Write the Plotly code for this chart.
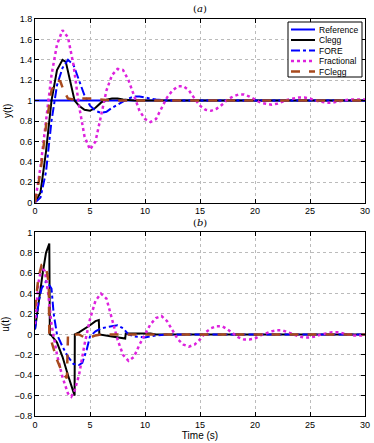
import plotly.graph_objects as go
from plotly.subplots import make_subplots

# ---- (a) output y(t) ----
ref_t = [0, 30]
ref_y = [1, 1]

clegg_t = [0, 0.5, 1, 1.5, 2, 2.5, 2.8, 3.2, 3.6, 4, 4.5, 5, 5.5, 6, 6.5, 7, 7.5, 8, 9, 30]
clegg_y = [0, 0.1, 0.5, 1.0, 1.3, 1.4, 1.38, 1.2, 1.0, 0.95, 0.91, 0.9, 0.93, 0.98, 1.01, 1.02, 1.02, 1.01, 1.0, 1.0]

fore_t = [0, 0.5, 1, 1.5, 2, 2.5, 3, 3.5, 4, 4.5, 5, 5.5, 6, 6.5, 7, 7.5, 8, 8.5, 9, 9.5, 10, 11, 12, 30]
fore_y = [0, 0.05, 0.3, 0.8, 1.15, 1.32, 1.4, 1.35, 1.2, 1.05, 0.95, 0.9, 0.88, 0.89, 0.93, 0.96, 0.99, 1.02, 1.04, 1.04, 1.03, 1.01, 1.0, 1.0]

frac_t = [0, 0.5, 1, 1.5, 2, 2.5, 3, 3.5, 4, 4.5, 5, 5.5, 6, 6.5, 7, 7.5, 8, 8.5, 9, 9.5,
          10, 10.5, 11, 11.5, 12, 12.5, 13, 13.5, 14, 14.5, 15, 15.5, 16, 16.5, 17, 17.5,
          18, 18.5, 19, 19.5, 20, 20.5, 21, 21.5, 22, 22.5, 23, 23.5, 24, 24.5, 25, 25.5,
          26, 26.5, 27, 27.5, 28, 28.5, 29, 29.5, 30]
frac_y = [0, 0.35, 0.8, 1.25, 1.55, 1.69, 1.62, 1.35, 0.95, 0.65, 0.52, 0.6, 0.85, 1.1, 1.25, 1.31, 1.3, 1.2, 1.05, 0.9,
          0.82, 0.79, 0.82, 0.92, 1.03, 1.1, 1.14, 1.14, 1.1, 1.02, 0.95, 0.91, 0.9, 0.92, 0.96, 1.01,
          1.04, 1.06, 1.06, 1.04, 1.01, 0.98, 0.97, 0.96, 0.97, 0.99, 1.01, 1.02, 1.03, 1.03, 1.02, 1.0,
          0.99, 0.98, 0.98, 0.99, 1.0, 1.01, 1.01, 1.01, 1.01]

fclegg_t = [0, 0.5, 1, 1.5, 2, 2.3, 2.6, 3, 3.5, 4, 5, 6, 7, 30]
fclegg_y = [0, 0.3, 0.75, 1.1, 1.2, 1.19, 1.1, 1.02, 1.01, 1.02, 1.02, 1.01, 1.0, 1.0]

# ---- (b) control u(t) ----
uclegg_t = [0, 0.3, 0.7, 1, 1.3, 1.35, 1.5, 2, 2.5, 3, 3.5, 3.6, 3.62, 4, 5, 5.5, 5.8, 5.85, 7, 8.2, 8.25, 10, 10.5, 11, 30]
uclegg_y = [0.05, 0.3, 0.6, 0.8, 0.89, 0.0, -0.01, -0.08, -0.22, -0.4, -0.57, -0.6, 0.0, 0.02, 0.09, 0.13, 0.14, 0.0, -0.02, -0.04, 0.01, 0.01, 0.01, 0.0, 0.0]

ufore_t = [0, 0.3, 0.6, 1, 1.2, 1.5, 1.7, 2, 2.5, 3, 3.5, 4, 4.3, 4.7, 5, 5.5, 6, 7, 7.5, 8, 8.5, 9, 10, 11, 12, 30]
ufore_y = [0.05, 0.3, 0.45, 0.52, 0.5, 0.45, 0.2, 0.0, -0.12, -0.22, -0.29, -0.3, -0.28, -0.15, -0.02, 0.03, 0.06, 0.08, 0.09, 0.06, 0.0, -0.02, -0.03, -0.01, 0.0, 0.0]

ufrac_t = [0, 0.3, 0.6, 0.9, 1.2, 1.5, 2, 2.5, 3, 3.3, 3.6, 4, 4.5, 5, 5.5, 6, 6.5, 7, 7.5, 8, 8.5, 9, 9.5,
           10, 10.5, 11, 11.5, 12, 12.5, 13, 13.5, 14, 14.5, 15, 15.5, 16, 16.5, 17, 17.5,
           18, 18.5, 19, 19.5, 20, 20.5, 21, 21.5, 22, 22.5, 23, 23.5, 24, 24.5, 25, 25.5,
           26, 26.5, 27, 27.5, 28, 28.5, 29, 29.5, 30]
ufrac_y = [0.1, 0.5, 0.66, 0.62, 0.4, 0.1, -0.2, -0.42, -0.58, -0.61, -0.55, -0.4, -0.1, 0.15, 0.33, 0.4, 0.35, 0.15, -0.05, -0.2, -0.26, -0.22, -0.1,
           0.0, 0.1, 0.16, 0.18, 0.13, 0.04, -0.05, -0.1, -0.12, -0.1, -0.05, 0.02, 0.06, 0.08, 0.08, 0.05,
           0.01, -0.03, -0.05, -0.05, -0.04, -0.01, 0.01, 0.03, 0.04, 0.04, 0.02, 0.0, -0.02, -0.03, -0.03, -0.02,
           0.0, 0.01, 0.02, 0.02, 0.01, 0.0, -0.01, -0.01, -0.01]

ufclegg_t = [0, 0.3, 0.6, 0.9, 1.1, 1.25, 1.3, 1.6, 2, 2.5, 2.9, 3.0, 4, 4.5, 5, 5.5, 6, 30]
ufclegg_y = [0.25, 0.55, 0.68, 0.68, 0.6, 0.5, 0.0, -0.1, -0.25, -0.38, -0.43, 0.0, 0.0, -0.03, -0.03, -0.01, 0.0, 0.0]

BLUE = "#0000ff"
MAG = "#dd22dd"
BROWN = "#a84a1e"

# name, colour, dash, width  (used for both panels and the legend box)
styles = [
    ("Reference", BLUE, "solid", 2),
    ("Clegg", "black", "solid", 2),
    ("FORE", BLUE, "dashdot", 2),
    ("Fractional", MAG, "dot", 2.5),
    ("FClegg", BROWN, "dash", 2.5),
]

fig = make_subplots(rows=2, cols=1, vertical_spacing=0.075)

top = [ref_t, clegg_t, fore_t, frac_t, fclegg_t], [ref_y, clegg_y, fore_y, frac_y, fclegg_y]
for (name, color, dash, width), t, y in zip(styles, *top):
    fig.add_trace(go.Scatter(x=t, y=y, mode="lines", name=name, showlegend=False,
                             line=dict(color=color, dash=dash, width=width)), row=1, col=1)

bottom = [uclegg_t, ufore_t, ufrac_t, ufclegg_t], [uclegg_y, ufore_y, ufrac_y, ufclegg_y]
for (name, color, dash, width), t, y in zip(styles[1:], *bottom):
    fig.add_trace(go.Scatter(x=t, y=y, mode="lines", name=name, showlegend=False,
                             line=dict(color=color, dash=dash, width=width)), row=2, col=1)

axis_style = dict(showline=True, linecolor="black", linewidth=1, mirror="ticks",
                  ticks="inside", ticklen=4, tickcolor="black", automargin=False,
                  showgrid=True, gridcolor="#bbbbbb", griddash="dot", gridwidth=1,
                  zeroline=False, tickfont=dict(size=9, color="black"))

fig.update_xaxes(range=[0, 30], dtick=5, **axis_style)
fig.update_yaxes(**axis_style)
fig.update_yaxes(range=[0, 1.8], dtick=0.2, row=1, col=1,
                 title=dict(text="y(t)", font=dict(size=10), standoff=6))
fig.update_yaxes(range=[-0.8, 1], dtick=0.2, row=2, col=1,
                 title=dict(text="u(t)", font=dict(size=10), standoff=6))
fig.update_xaxes(row=2, col=1, title=dict(text="Time (s)", font=dict(size=10), standoff=3))

W, H = 374, 443
# plot area in window pixels: x 35..365, y 19..416
pw, ph = 365 - 35, 416 - 19
px = lambda v: (v - 35) / pw
py = lambda v: (416 - v) / ph

# legend box drawn by hand (MATLAB-style compact legend)
shapes = [dict(type="rect", xref="paper", yref="paper", x0=px(288), x1=px(362), y0=py(77), y1=py(22),
               line=dict(color="black", width=1), fillcolor="white", layer="above")]
annotations = []
for i, (name, color, dash, width) in enumerate(styles):
    yy = py(29.5 + i * 10.5)
    shapes.append(dict(type="line", xref="paper", yref="paper", x0=px(291), x1=px(315), y0=yy, y1=yy,
                       line=dict(color=color, dash=dash, width=width), layer="above"))
    annotations.append(dict(text=name, x=px(317), y=yy, xref="paper", yref="paper",
                            xanchor="left", yanchor="middle", showarrow=False,
                            font=dict(size=8.5)))

annotations += [
    dict(text="(<i>a</i>)", x=0.5, y=py(8), xref="paper", yref="paper",
         yanchor="middle", showarrow=False,
         font=dict(family="DejaVu Serif, serif", size=10)),
    dict(text="(<i>b</i>)", x=0.5, y=py(222), xref="paper", yref="paper",
         yanchor="middle", showarrow=False,
         font=dict(family="DejaVu Serif, serif", size=10)),
]

fig.update_layout(
    width=W, height=H,
    margin=dict(l=35, r=374 - 365, t=19, b=443 - 416),
    paper_bgcolor="white", plot_bgcolor="white",
    font=dict(family="Liberation Sans, Arial, sans-serif", size=9, color="black"),
    shapes=shapes, annotations=annotations,
)

# drop the default 8px page margin so the figure fills the window exactly
fig.write_html("out.html", config={"displayModeBar": False},
               post_script="document.body.style.margin='0px';")
